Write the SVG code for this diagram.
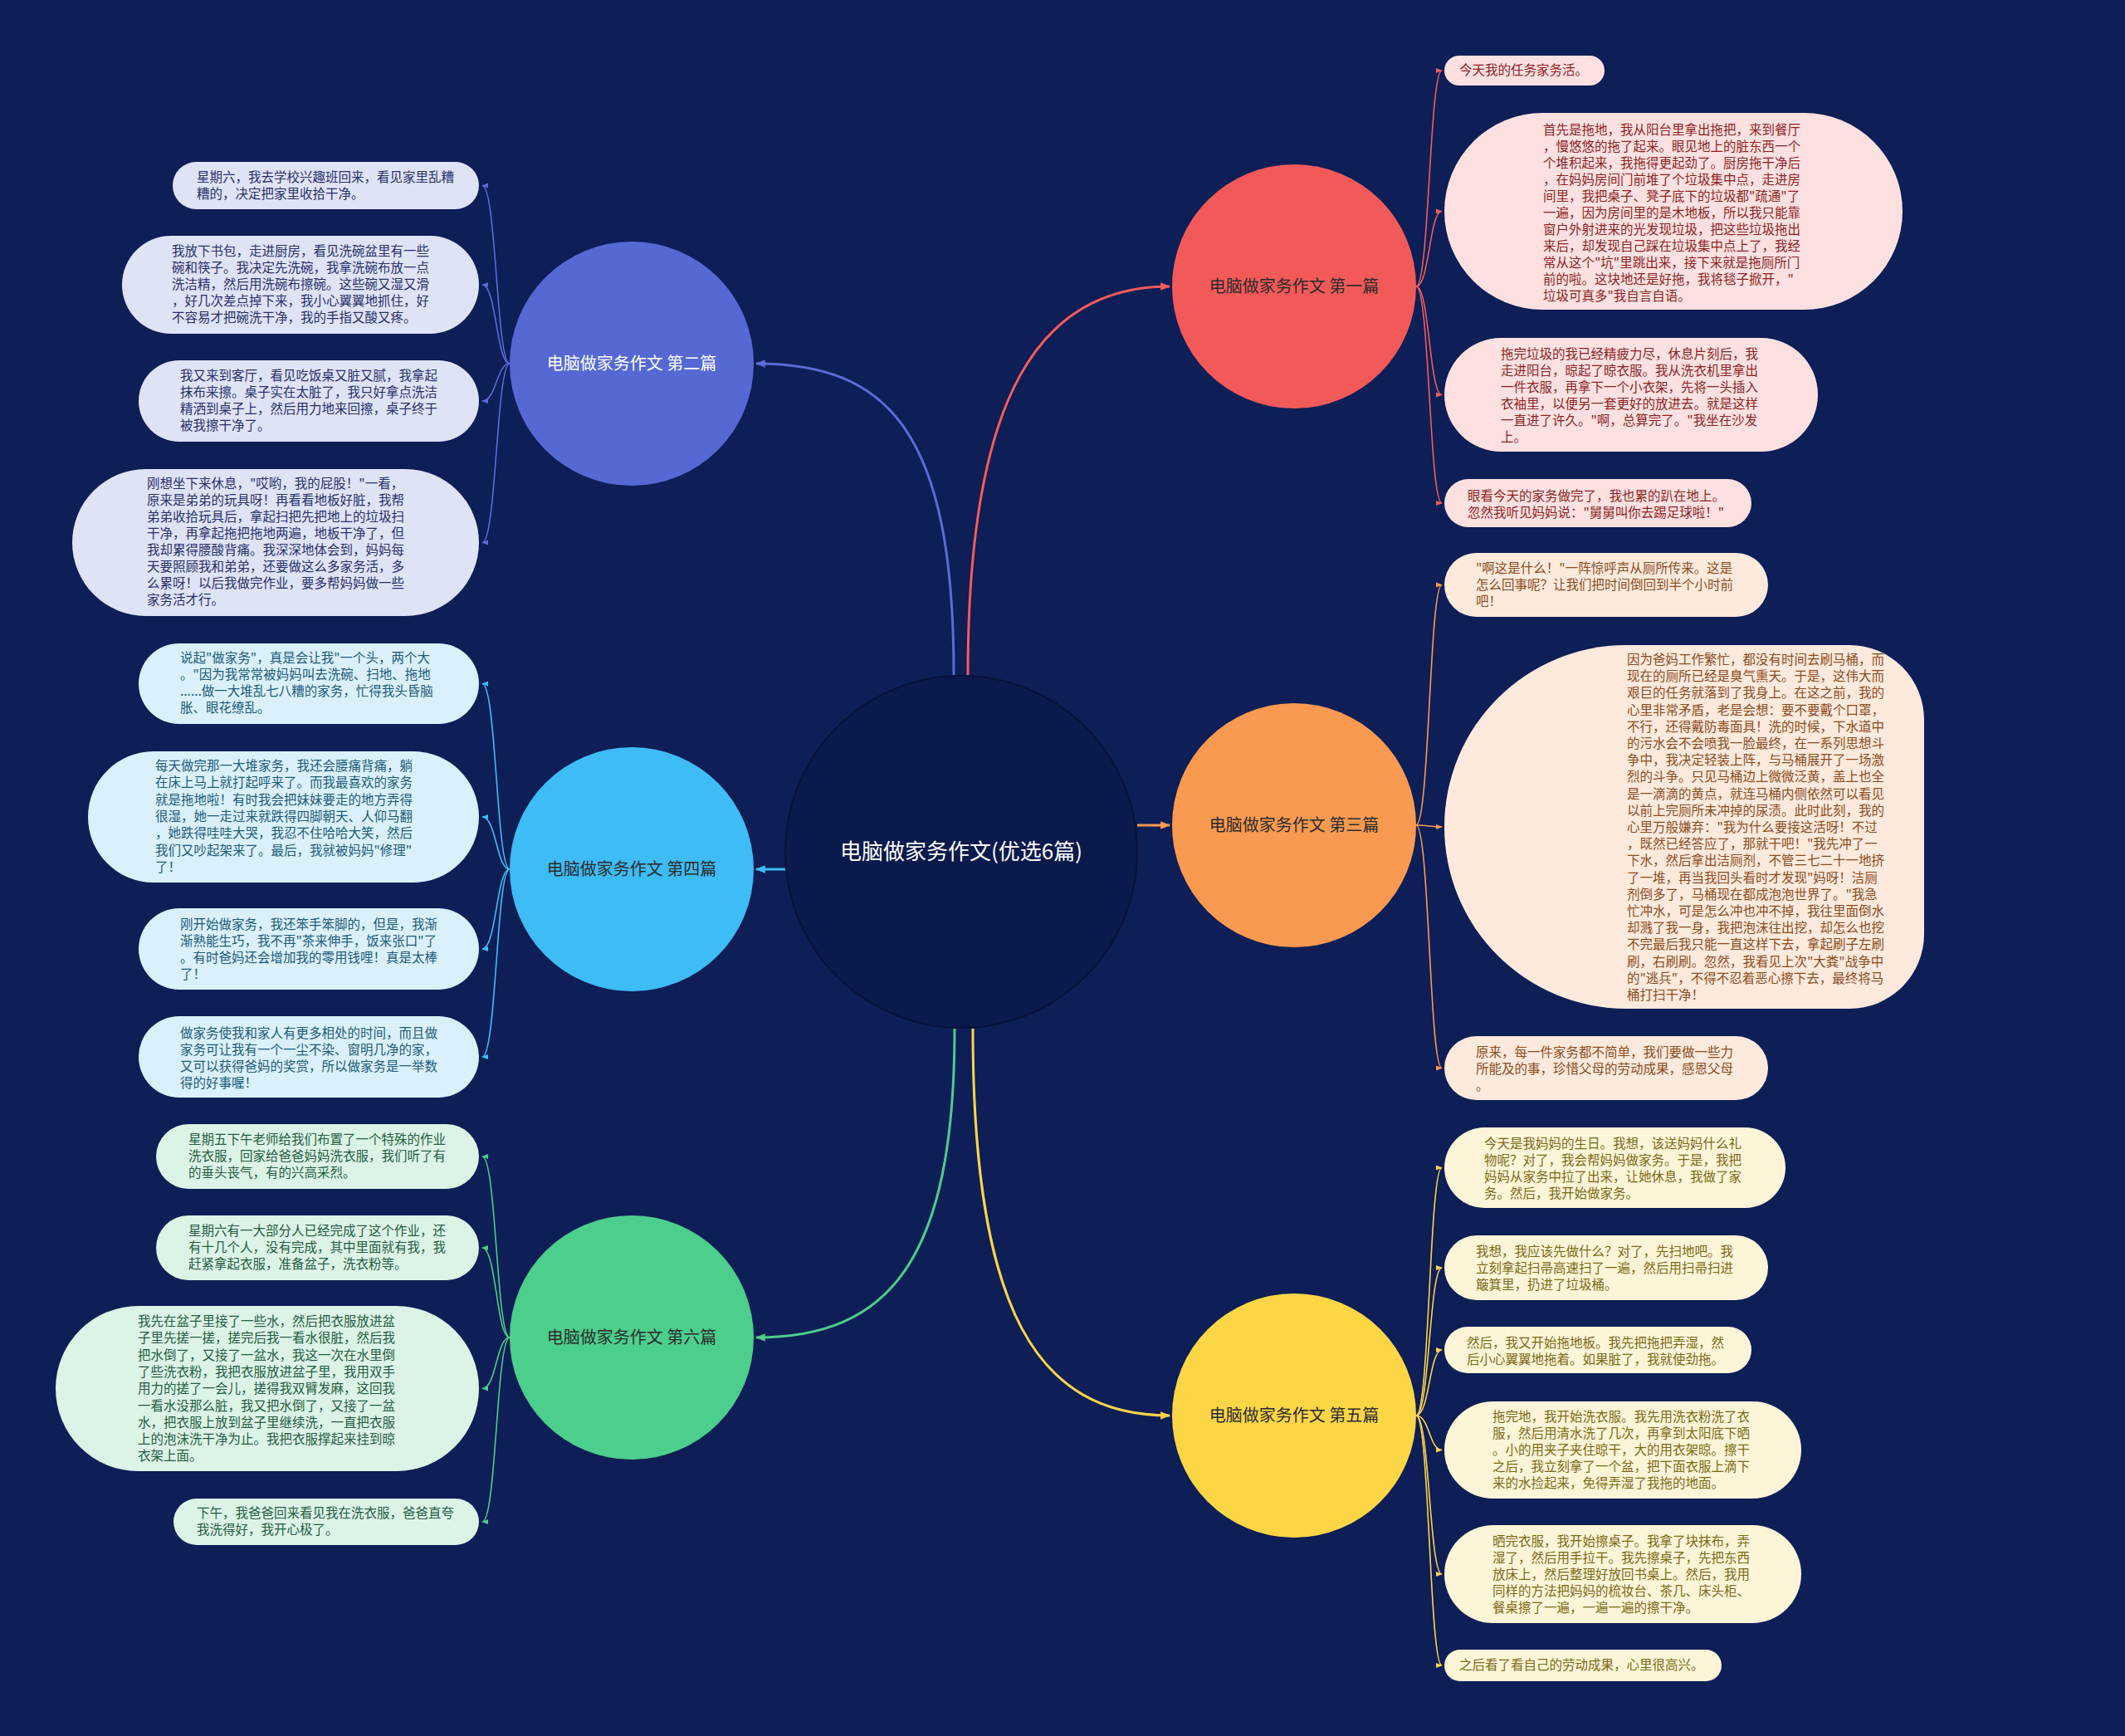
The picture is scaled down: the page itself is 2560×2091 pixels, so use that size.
<svg xmlns="http://www.w3.org/2000/svg" width="2560" height="2091" viewBox="0 0 2560 2091">
<style>
text{font-family:"Noto Sans CJK SC","Noto Sans",sans-serif}
.lt{font-size:15.5px}
.bt{font-size:20px;fill:#2b2b2b;text-anchor:middle}
.bw{fill:#ffffff}
.ct{font-size:26px;fill:#ffffff;text-anchor:middle}
.main{fill:none;stroke-width:3}
.lk{fill:none;stroke-width:1.6}
.red{stroke:#f25c5c}.pur{stroke:#5b6bd6}.ora{stroke:#f89a52}.blu{stroke:#3fbdf5}.yel{stroke:#fcd54a}.gre{stroke:#4dcc8a}
.lr rect,.lr path{fill:#fde1e1}.lr text{fill:#8c1f1f}
.lp rect{fill:#dfe3f6}.lp text{fill:#27306b}
.lo rect,.lo path{fill:#fdeadd}.lo text{fill:#8b4a1c}
.lb rect{fill:#daf1fb}.lb text{fill:#1c5a7a}
.ly rect{fill:#fdf5d8}.ly text{fill:#7a6914}
.lg rect{fill:#dcf4e6}.lg text{fill:#245c3f}
</style>
<defs>
<marker id="m-red" viewBox="0 0 10 10" refX="9" refY="5" markerWidth="8" markerHeight="8" markerUnits="userSpaceOnUse" orient="auto"><path d="M0,1 L10,5 L0,9 z" fill="#f25c5c"/></marker>
<marker id="m-pur" viewBox="0 0 10 10" refX="9" refY="5" markerWidth="8" markerHeight="8" markerUnits="userSpaceOnUse" orient="auto"><path d="M0,1 L10,5 L0,9 z" fill="#5b6bd6"/></marker>
<marker id="m-ora" viewBox="0 0 10 10" refX="9" refY="5" markerWidth="8" markerHeight="8" markerUnits="userSpaceOnUse" orient="auto"><path d="M0,1 L10,5 L0,9 z" fill="#f89a52"/></marker>
<marker id="m-blu" viewBox="0 0 10 10" refX="9" refY="5" markerWidth="8" markerHeight="8" markerUnits="userSpaceOnUse" orient="auto"><path d="M0,1 L10,5 L0,9 z" fill="#3fbdf5"/></marker>
<marker id="m-yel" viewBox="0 0 10 10" refX="9" refY="5" markerWidth="8" markerHeight="8" markerUnits="userSpaceOnUse" orient="auto"><path d="M0,1 L10,5 L0,9 z" fill="#fcd54a"/></marker>
<marker id="m-gre" viewBox="0 0 10 10" refX="9" refY="5" markerWidth="8" markerHeight="8" markerUnits="userSpaceOnUse" orient="auto"><path d="M0,1 L10,5 L0,9 z" fill="#4dcc8a"/></marker>
<marker id="M-red" viewBox="0 0 10 10" refX="9" refY="5" markerWidth="12" markerHeight="12" markerUnits="userSpaceOnUse" orient="auto"><path d="M0,1 L10,5 L0,9 z" fill="#f25c5c"/></marker>
<marker id="M-pur" viewBox="0 0 10 10" refX="9" refY="5" markerWidth="12" markerHeight="12" markerUnits="userSpaceOnUse" orient="auto"><path d="M0,1 L10,5 L0,9 z" fill="#5b6bd6"/></marker>
<marker id="M-ora" viewBox="0 0 10 10" refX="9" refY="5" markerWidth="12" markerHeight="12" markerUnits="userSpaceOnUse" orient="auto"><path d="M0,1 L10,5 L0,9 z" fill="#f89a52"/></marker>
<marker id="M-blu" viewBox="0 0 10 10" refX="9" refY="5" markerWidth="12" markerHeight="12" markerUnits="userSpaceOnUse" orient="auto"><path d="M0,1 L10,5 L0,9 z" fill="#3fbdf5"/></marker>
<marker id="M-yel" viewBox="0 0 10 10" refX="9" refY="5" markerWidth="12" markerHeight="12" markerUnits="userSpaceOnUse" orient="auto"><path d="M0,1 L10,5 L0,9 z" fill="#fcd54a"/></marker>
<marker id="M-gre" viewBox="0 0 10 10" refX="9" refY="5" markerWidth="12" markerHeight="12" markerUnits="userSpaceOnUse" orient="auto"><path d="M0,1 L10,5 L0,9 z" fill="#4dcc8a"/></marker>
</defs>
<rect x="0" y="0" width="2560" height="2091" fill="#0e1e56"/>

<g id="connectors">
<path class="main red" d="M1166 813 C1166 480 1250 345 1409 345" marker-end="url(#M-red)"/>
<path class="main pur" d="M1149 813 C1149 520 1070 438 911 438" marker-end="url(#M-pur)"/>
<path class="main ora" d="M1370 994 L1409 994" marker-end="url(#M-ora)"/>
<path class="main blu" d="M946 1047 L911 1047" marker-end="url(#M-blu)"/>
<path class="main yel" d="M1172 1239 C1172 1580 1250 1705 1409 1705" marker-end="url(#M-yel)"/>
<path class="main gre" d="M1150 1239 C1150 1520 1070 1611 911 1611" marker-end="url(#M-gre)"/>

<path class="lk red" d="M1706 345 C1722 345 1722 85 1737 85" marker-end="url(#m-red)"/>
<path class="lk red" d="M1706 345 C1722 345 1722 254.5 1737 254.5" marker-end="url(#m-red)"/>
<path class="lk red" d="M1706 345 C1722 345 1722 475.5 1737 475.5" marker-end="url(#m-red)"/>
<path class="lk red" d="M1706 345 C1722 345 1722 606 1737 606" marker-end="url(#m-red)"/>

<path class="lk ora" d="M1706 994 C1722 994 1722 704.5 1737 704.5" marker-end="url(#m-ora)"/>
<path class="lk ora" d="M1706 994 C1722 994 1722 996 1737 996" marker-end="url(#m-ora)"/>
<path class="lk ora" d="M1706 994 C1722 994 1722 1286.5 1737 1286.5" marker-end="url(#m-ora)"/>

<path class="lk yel" d="M1706 1705 C1722 1705 1722 1406.5 1737 1406.5" marker-end="url(#m-yel)"/>
<path class="lk yel" d="M1706 1705 C1722 1705 1722 1527 1737 1527" marker-end="url(#m-yel)"/>
<path class="lk yel" d="M1706 1705 C1722 1705 1722 1626 1737 1626" marker-end="url(#m-yel)"/>
<path class="lk yel" d="M1706 1705 C1722 1705 1722 1746.5 1737 1746.5" marker-end="url(#m-yel)"/>
<path class="lk yel" d="M1706 1705 C1722 1705 1722 1896 1737 1896" marker-end="url(#m-yel)"/>
<path class="lk yel" d="M1706 1705 C1722 1705 1722 2006 1737 2006" marker-end="url(#m-yel)"/>

<path class="lk pur" d="M614 438 C598 438 598 223.5 581 223.5" marker-end="url(#m-pur)"/>
<path class="lk pur" d="M614 438 C598 438 598 343 581 343" marker-end="url(#m-pur)"/>
<path class="lk pur" d="M614 438 C598 438 598 483 581 483" marker-end="url(#m-pur)"/>
<path class="lk pur" d="M614 438 C598 438 598 653.5 581 653.5" marker-end="url(#m-pur)"/>

<path class="lk blu" d="M614 1047 C598 1047 598 823.5 581 823.5" marker-end="url(#m-blu)"/>
<path class="lk blu" d="M614 1047 C598 1047 598 984 581 984" marker-end="url(#m-blu)"/>
<path class="lk blu" d="M614 1047 C598 1047 598 1143 581 1143" marker-end="url(#m-blu)"/>
<path class="lk blu" d="M614 1047 C598 1047 598 1273 581 1273" marker-end="url(#m-blu)"/>

<path class="lk gre" d="M614 1611 C598 1611 598 1393 581 1393" marker-end="url(#m-gre)"/>
<path class="lk gre" d="M614 1611 C598 1611 598 1503 581 1503" marker-end="url(#m-gre)"/>
<path class="lk gre" d="M614 1611 C598 1611 598 1672.5 581 1672.5" marker-end="url(#m-gre)"/>
<path class="lk gre" d="M614 1611 C598 1611 598 1833 581 1833" marker-end="url(#m-gre)"/>
</g>

<g id="center">
<circle cx="1158" cy="1026" r="212" fill="#0b1a4c" stroke="#071238" stroke-width="2"/>
<text class="ct" x="1158" y="1035">电脑做家务作文(优选6篇)</text>
</g>

<g id="b1"><circle cx="1559" cy="345" r="147" fill="#f25a5a"/><text class="bt" x="1559" y="352">电脑做家务作文 第一篇</text></g>
<g id="b2"><circle cx="761" cy="438" r="147" fill="#5568d4"/><text class="bt bw" x="761" y="445">电脑做家务作文 第二篇</text></g>
<g id="b3"><circle cx="1559" cy="994" r="147" fill="#f99a50"/><text class="bt" x="1559" y="1001">电脑做家务作文 第三篇</text></g>
<g id="b4"><circle cx="761" cy="1047" r="147" fill="#3dbcf6"/><text class="bt" x="761" y="1054">电脑做家务作文 第四篇</text></g>
<g id="b5"><circle cx="1559" cy="1705" r="147" fill="#fdd646"/><text class="bt" x="1559" y="1712">电脑做家务作文 第五篇</text></g>
<g id="b6"><circle cx="761" cy="1611" r="147" fill="#4ccf8d"/><text class="bt" x="761" y="1618">电脑做家务作文 第六篇</text></g>

<g id="r1" class="lr"><rect x="1740" y="67" width="193" height="36" rx="18"/><text class="lt"><tspan x="1758" y="90">今天我的任务家务活。</tspan></text></g>
<g id="r2" class="lr"><rect x="1740" y="136" width="552" height="237" rx="118.5"/><text class="lt">
<tspan x="1859" y="162">首先是拖地，我从阳台里拿出拖把，来到餐厅</tspan>
<tspan x="1859" y="182">，慢悠悠的拖了起来。眼见地上的脏东西一个</tspan>
<tspan x="1859" y="202">个堆积起来，我拖得更起劲了。厨房拖干净后</tspan>
<tspan x="1859" y="222">，在妈妈房间门前堆了个垃圾集中点，走进房</tspan>
<tspan x="1859" y="242">间里，我把桌子、凳子底下的垃圾都"疏通"了</tspan>
<tspan x="1859" y="262">一遍，因为房间里的是木地板，所以我只能靠</tspan>
<tspan x="1859" y="282">窗户外射进来的光发现垃圾，把这些垃圾拖出</tspan>
<tspan x="1859" y="302">来后，却发现自己踩在垃圾集中点上了，我经</tspan>
<tspan x="1859" y="322">常从这个"坑"里跳出来，接下来就是拖厕所门</tspan>
<tspan x="1859" y="342">前的啦。这块地还是好拖，我将毯子掀开，"</tspan>
<tspan x="1859" y="362">垃圾可真多"我自言自语。</tspan></text></g>
<g id="r3" class="lr"><rect x="1740" y="407" width="450" height="137" rx="68.5"/><text class="lt">
<tspan x="1808" y="432">拖完垃圾的我已经精疲力尽，休息片刻后，我</tspan>
<tspan x="1808" y="452">走进阳台，晾起了晾衣服。我从洗衣机里拿出</tspan>
<tspan x="1808" y="472">一件衣服，再拿下一个小衣架，先将一头插入</tspan>
<tspan x="1808" y="492">衣袖里，以便另一套更好的放进去。就是这样</tspan>
<tspan x="1808" y="512">一直进了许久。"啊，总算完了。"我坐在沙发</tspan>
<tspan x="1808" y="532">上。</tspan></text></g>
<g id="r4" class="lr"><rect x="1740" y="577" width="370" height="58" rx="29"/><text class="lt">
<tspan x="1768" y="603">眼看今天的家务做完了，我也累的趴在地上。</tspan>
<tspan x="1768" y="623">忽然我听见妈妈说："舅舅叫你去踢足球啦！"</tspan></text></g>

<g id="o1" class="lo"><rect x="1740" y="666" width="390" height="77" rx="38.5"/><text class="lt">
<tspan x="1778" y="690">"啊这是什么！"一阵惊呼声从厕所传来。这是</tspan>
<tspan x="1778" y="710">怎么回事呢？让我们把时间倒回到半个小时前</tspan>
<tspan x="1778" y="730">吧！</tspan></text></g>
<g id="o2" class="lo"><path d="M1959 777 L2228 777 A90 90 0 0 1 2318 867 L2318 1125 A90 90 0 0 1 2228 1215 L1959 1215 A219 219 0 0 1 1740 996 A219 219 0 0 1 1959 777 Z"/><text class="lt">
<tspan x="1960" y="800">因为爸妈工作繁忙，都没有时间去刷马桶，而</tspan>
<tspan x="1960" y="820.2">现在的厕所已经是臭气熏天。于是，这伟大而</tspan>
<tspan x="1960" y="840.4">艰巨的任务就落到了我身上。在这之前，我的</tspan>
<tspan x="1960" y="860.6">心里非常矛盾，老是会想：要不要戴个口罩，</tspan>
<tspan x="1960" y="880.8">不行，还得戴防毒面具！洗的时候，下水道中</tspan>
<tspan x="1960" y="901">的污水会不会喷我一脸最终，在一系列思想斗</tspan>
<tspan x="1960" y="921.2">争中，我决定轻装上阵，与马桶展开了一场激</tspan>
<tspan x="1960" y="941.4">烈的斗争。只见马桶边上微微泛黄，盖上也全</tspan>
<tspan x="1960" y="961.6">是一滴滴的黄点，就连马桶内侧依然可以看见</tspan>
<tspan x="1960" y="981.8">以前上完厕所未冲掉的尿渍。此时此刻，我的</tspan>
<tspan x="1960" y="1002">心里万般嫌弃："我为什么要接这活呀！不过</tspan>
<tspan x="1960" y="1022.2">，既然已经答应了，那就干吧！"我先冲了一</tspan>
<tspan x="1960" y="1042.4">下水，然后拿出洁厕剂，不管三七二十一地挤</tspan>
<tspan x="1960" y="1062.6">了一堆，再当我回头看时才发现"妈呀！洁厕</tspan>
<tspan x="1960" y="1082.8">剂倒多了，马桶现在都成泡泡世界了。"我急</tspan>
<tspan x="1960" y="1103">忙冲水，可是怎么冲也冲不掉，我往里面倒水</tspan>
<tspan x="1960" y="1123.2">却溅了我一身，我把泡沫往出挖，却怎么也挖</tspan>
<tspan x="1960" y="1143.4">不完最后我只能一直这样下去，拿起刷子左刷</tspan>
<tspan x="1960" y="1163.6">刷，右刷刷。忽然，我看见上次"大粪"战争中</tspan>
<tspan x="1960" y="1183.8">的"逃兵"，不得不忍着恶心擦下去，最终将马</tspan>
<tspan x="1960" y="1204">桶打扫干净！</tspan></text></g>
<g id="o3" class="lo"><rect x="1740" y="1248" width="390" height="77" rx="38.5"/><text class="lt">
<tspan x="1778" y="1273">原来，每一件家务都不简单，我们要做一些力</tspan>
<tspan x="1778" y="1293">所能及的事，珍惜父母的劳动成果，感恩父母</tspan>
<tspan x="1778" y="1313">。</tspan></text></g>

<g id="y1" class="ly"><rect x="1740" y="1358" width="411" height="97" rx="48.5"/><text class="lt">
<tspan x="1788" y="1383">今天是我妈妈的生日。我想，该送妈妈什么礼</tspan>
<tspan x="1788" y="1403">物呢？对了，我会帮妈妈做家务。于是，我把</tspan>
<tspan x="1788" y="1423">妈妈从家务中拉了出来，让她休息，我做了家</tspan>
<tspan x="1788" y="1443">务。然后，我开始做家务。</tspan></text></g>
<g id="y2" class="ly"><rect x="1740" y="1488" width="390" height="78" rx="39"/><text class="lt">
<tspan x="1778" y="1513">我想，我应该先做什么？对了，先扫地吧。我</tspan>
<tspan x="1778" y="1533">立刻拿起扫帚高速扫了一遍，然后用扫帚扫进</tspan>
<tspan x="1778" y="1553">簸箕里，扔进了垃圾桶。</tspan></text></g>
<g id="y3" class="ly"><rect x="1740" y="1598" width="370" height="56" rx="28"/><text class="lt">
<tspan x="1767" y="1623">然后，我又开始拖地板。我先把拖把弄湿，然</tspan>
<tspan x="1767" y="1643">后小心翼翼地拖着。如果脏了，我就使劲拖。</tspan></text></g>
<g id="y4" class="ly"><rect x="1740" y="1688" width="430" height="117" rx="58.5"/><text class="lt">
<tspan x="1798" y="1712">拖完地，我开始洗衣服。我先用洗衣粉洗了衣</tspan>
<tspan x="1798" y="1732">服，然后用清水洗了几次，再拿到太阳底下晒</tspan>
<tspan x="1798" y="1752">。小的用夹子夹住晾干，大的用衣架晾。擦干</tspan>
<tspan x="1798" y="1772">之后，我立刻拿了一个盆，把下面衣服上滴下</tspan>
<tspan x="1798" y="1792">来的水捡起来，免得弄湿了我拖的地面。</tspan></text></g>
<g id="y5" class="ly"><rect x="1740" y="1837" width="430" height="118" rx="59"/><text class="lt">
<tspan x="1798" y="1862">晒完衣服，我开始擦桌子。我拿了块抹布，弄</tspan>
<tspan x="1798" y="1882">湿了，然后用手拉干。我先擦桌子，先把东西</tspan>
<tspan x="1798" y="1902">放床上，然后整理好放回书桌上。然后，我用</tspan>
<tspan x="1798" y="1922">同样的方法把妈妈的梳妆台、茶几、床头柜、</tspan>
<tspan x="1798" y="1942">餐桌擦了一遍，一遍一遍的擦干净。</tspan></text></g>
<g id="y6" class="ly"><rect x="1740" y="1987" width="334" height="38" rx="19"/><text class="lt"><tspan x="1758" y="2011">之后看了看自己的劳动成果，心里很高兴。</tspan></text></g>

<g id="p1" class="lp"><rect x="208" y="195" width="369" height="57" rx="28.5"/><text class="lt">
<tspan x="237" y="219">星期六，我去学校兴趣班回来，看见家里乱糟</tspan>
<tspan x="237" y="239">糟的，决定把家里收拾干净。</tspan></text></g>
<g id="p2" class="lp"><rect x="147" y="284" width="430" height="118" rx="59"/><text class="lt">
<tspan x="207" y="308">我放下书包，走进厨房，看见洗碗盆里有一些</tspan>
<tspan x="207" y="328">碗和筷子。我决定先洗碗，我拿洗碗布放一点</tspan>
<tspan x="207" y="348">洗洁精，然后用洗碗布擦碗。这些碗又湿又滑</tspan>
<tspan x="207" y="368">，好几次差点掉下来，我小心翼翼地抓住，好</tspan>
<tspan x="207" y="388">不容易才把碗洗干净，我的手指又酸又疼。</tspan></text></g>
<g id="p3" class="lp"><rect x="167" y="434" width="410" height="98" rx="49"/><text class="lt">
<tspan x="217" y="458">我又来到客厅，看见吃饭桌又脏又腻，我拿起</tspan>
<tspan x="217" y="478">抹布来擦。桌子实在太脏了，我只好拿点洗洁</tspan>
<tspan x="217" y="498">精洒到桌子上，然后用力地来回擦，桌子终于</tspan>
<tspan x="217" y="518">被我擦干净了。</tspan></text></g>
<g id="p4" class="lp"><rect x="87" y="565" width="490" height="177" rx="88.5"/><text class="lt">
<tspan x="177" y="588">刚想坐下来休息，"哎哟，我的屁股！"一看，</tspan>
<tspan x="177" y="608">原来是弟弟的玩具呀！再看看地板好脏，我帮</tspan>
<tspan x="177" y="628">弟弟收拾玩具后，拿起扫把先把地上的垃圾扫</tspan>
<tspan x="177" y="648">干净，再拿起拖把拖地两遍，地板干净了，但</tspan>
<tspan x="177" y="668">我却累得腰酸背痛。我深深地体会到，妈妈每</tspan>
<tspan x="177" y="688">天要照顾我和弟弟，还要做这么多家务活，多</tspan>
<tspan x="177" y="708">么累呀！以后我做完作业，要多帮妈妈做一些</tspan>
<tspan x="177" y="728">家务活才行。</tspan></text></g>

<g id="q1" class="lb"><rect x="167" y="775" width="410" height="97" rx="48.5"/><text class="lt">
<tspan x="217" y="798">说起"做家务"，真是会让我"一个头，两个大</tspan>
<tspan x="217" y="818">。"因为我常常被妈妈叫去洗碗、扫地、拖地</tspan>
<tspan x="217" y="838">......做一大堆乱七八糟的家务，忙得我头昏脑</tspan>
<tspan x="217" y="858">胀、眼花缭乱。</tspan></text></g>
<g id="q2" class="lb"><rect x="106" y="905" width="471" height="158" rx="79"/><text class="lt">
<tspan x="187" y="928">每天做完那一大堆家务，我还会腰痛背痛，躺</tspan>
<tspan x="187" y="948">在床上马上就打起呼来了。而我最喜欢的家务</tspan>
<tspan x="187" y="969">就是拖地啦！有时我会把妹妹要走的地方弄得</tspan>
<tspan x="187" y="989">很湿，她一走过来就跌得四脚朝天、人仰马翻</tspan>
<tspan x="187" y="1009">，她跌得哇哇大哭，我忍不住哈哈大笑，然后</tspan>
<tspan x="187" y="1030">我们又吵起架来了。最后，我就被妈妈"修理"</tspan>
<tspan x="187" y="1050">了！</tspan></text></g>
<g id="q3" class="lb"><rect x="167" y="1094" width="410" height="98" rx="49"/><text class="lt">
<tspan x="217" y="1119">刚开始做家务，我还笨手笨脚的，但是，我渐</tspan>
<tspan x="217" y="1139">渐熟能生巧，我不再"茶来伸手，饭来张口"了</tspan>
<tspan x="217" y="1159">。有时爸妈还会增加我的零用钱哩！真是太棒</tspan>
<tspan x="217" y="1179">了！</tspan></text></g>
<g id="q4" class="lb"><rect x="167" y="1224" width="410" height="98" rx="49"/><text class="lt">
<tspan x="217" y="1250">做家务使我和家人有更多相处的时间，而且做</tspan>
<tspan x="217" y="1270">家务可让我有一个一尘不染、窗明几净的家，</tspan>
<tspan x="217" y="1290">又可以获得爸妈的奖赏，所以做家务是一举数</tspan>
<tspan x="217" y="1310">得的好事喔！</tspan></text></g>

<g id="g1" class="lg"><rect x="188" y="1354" width="389" height="78" rx="39"/><text class="lt">
<tspan x="227" y="1378">星期五下午老师给我们布置了一个特殊的作业</tspan>
<tspan x="227" y="1398">洗衣服，回家给爸爸妈妈洗衣服，我们听了有</tspan>
<tspan x="227" y="1418">的垂头丧气，有的兴高采烈。</tspan></text></g>
<g id="g2" class="lg"><rect x="188" y="1464" width="389" height="78" rx="39"/><text class="lt">
<tspan x="227" y="1488">星期六有一大部分人已经完成了这个作业，还</tspan>
<tspan x="227" y="1508">有十几个人，没有完成，其中里面就有我，我</tspan>
<tspan x="227" y="1528">赶紧拿起衣服，准备盆子，洗衣粉等。</tspan></text></g>
<g id="g3" class="lg"><rect x="67" y="1573" width="510" height="199" rx="99.5"/><text class="lt">
<tspan x="166" y="1597">我先在盆子里接了一些水，然后把衣服放进盆</tspan>
<tspan x="166" y="1617">子里先搓一搓，搓完后我一看水很脏，然后我</tspan>
<tspan x="166" y="1638">把水倒了，又接了一盆水，我这一次在水里倒</tspan>
<tspan x="166" y="1658">了些洗衣粉，我把衣服放进盆子里，我用双手</tspan>
<tspan x="166" y="1678">用力的搓了一会儿，搓得我双臂发麻，这回我</tspan>
<tspan x="166" y="1699">一看水没那么脏，我又把水倒了，又接了一盆</tspan>
<tspan x="166" y="1719">水，把衣服上放到盆子里继续洗，一直把衣服</tspan>
<tspan x="166" y="1739">上的泡沫洗干净为止。我把衣服撑起来挂到晾</tspan>
<tspan x="166" y="1759">衣架上面。</tspan></text></g>
<g id="g4" class="lg"><rect x="209" y="1805" width="368" height="56" rx="28"/><text class="lt">
<tspan x="237" y="1828">下午，我爸爸回来看见我在洗衣服，爸爸直夸</tspan>
<tspan x="237" y="1848">我洗得好，我开心极了。</tspan></text></g>
</svg>
